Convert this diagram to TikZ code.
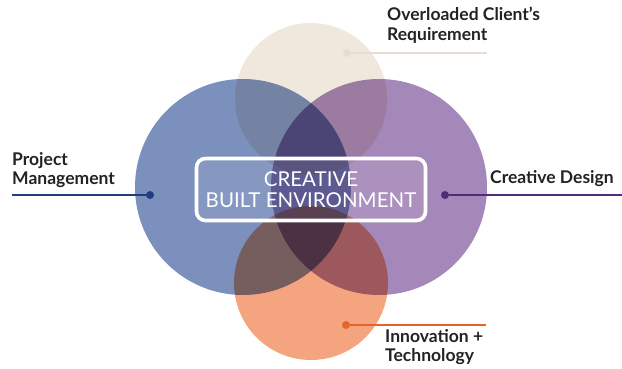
\documentclass[tikz,border=0pt]{standalone}
\usepackage{fontspec}
\setmainfont{Lato}
\usetikzlibrary{positioning}
\definecolor{pmblue}{RGB}{124,144,189}
\definecolor{cdpurple}{RGB}{165,136,186}
\definecolor{ocbeige}{RGB}{240,232,220}
\definecolor{itorange}{RGB}{244,165,128}
\definecolor{pmline}{RGB}{31,63,127}
\definecolor{cdline}{RGB}{84,42,122}
\definecolor{ocline}{RGB}{230,221,208}
\definecolor{itline}{RGB}{229,100,45}
\definecolor{lbltext}{RGB}{35,35,35}
\tikzset{
  lbl/.style={font=\bfseries\fontsize{17.5}{19.5}\selectfont, text=lbltext, align=left, anchor=north west, inner sep=0pt},
  link/.style={line width=2.6pt},
  dotmark/.style={circle, fill, inner sep=0pt, minimum size=8pt},
  cbebox/.style={draw=white, line width=3.6pt, rounded corners=9pt, fill=white, fill opacity=0.08, text opacity=1,
    text=white, align=center, font=\fontsize{20.5}{21}\selectfont, minimum width=229pt, minimum height=62pt}
}
\begin{document}
\begin{tikzpicture}[x=1pt,y=-1pt]
\useasboundingbox (0,0) rectangle (622,369);
\fill[white] (0,0) rectangle (622,369);
% the four circles, blended
\begin{scope}[blend group=multiply]
\fill[pmblue] (243,187) circle (108);
\fill[cdpurple] (379,187) circle (108);
\fill[ocbeige] (311,99) circle (76);
\fill[itorange] (311,283) circle (77);
\end{scope}
% centre box
\node[cbebox] (cbe) at (311,189.5) {CREATIVE\\BUILT ENVIRONMENT};
% dots and line ends
\node[dotmark, pmline] (pmdot) at (150,195) {};
\coordinate (pmend) at (12,195);
\node[dotmark, cdline] (cddot) at (445,195) {};
\coordinate (cdend) at (622,195);
\node[dotmark, ocline] (ocdot) at (347,53) {};
\coordinate (ocend) at (487,53);
\node[dotmark, itline] (itdot) at (346,325) {};
\coordinate (itend) at (486,325);
\draw[link, pmline] (pmdot) -- (pmend);
\draw[link, cdline] (cddot) -- (cdend);
\draw[link, ocline] (ocdot) -- (ocend);
\draw[link, itline] (itdot) -- (itend);
% labels
\node[lbl] (pmlbl) at (12,152) {Project\\Management};
\node[lbl] (cdlbl) at (490,170) {Creative Design};
\node[lbl] (oclbl) at (387,7) {Overloaded Client's\\Requirement};
\node[lbl] (itlbl) at (385,329) {Innovation +\\Technology};
\end{tikzpicture}
\end{document}
